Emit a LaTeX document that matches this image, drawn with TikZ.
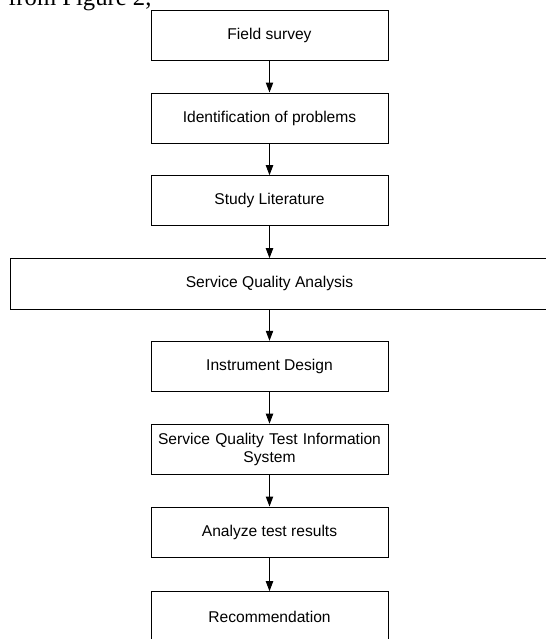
\documentclass[tikz,border=0pt]{standalone}
\usepackage{fontspec}
\setmainfont{Liberation Sans}
\newfontfamily\pagefont{Liberation Serif}
\usetikzlibrary{arrows.meta}

\begin{document}
\begin{tikzpicture}[x=0.75pt, y=-0.75pt,
    stage/.style={draw, line width=0.75pt, minimum width=177.75pt, minimum height=37.5pt,
        font=\fontsize{11.7}{13.3}\selectfont, align=center},
    flow/.style={-{Triangle[length=7.5pt,width=5.5pt]}, line width=0.75pt}]
    \useasboundingbox (0,0) rectangle (546,639);

    % Cut-off line of the page text above the figure
    \node[anchor=base west, inner sep=0pt, font=\pagefont\fontsize{18.5}{22}\selectfont] (pageline) at (8,6) {from Figure 2,};

    % Stages
    \node[stage] (survey) at (269.5,35) {Field survey};
    \node[stage] (problems) at (269.5,118) {Identification of problems};
    \node[stage] (literature) at (269.5,200.7) {Study Literature};

    % Wide box, runs past the right edge
    \draw[line width=0.75pt] (10.7,258.3) rectangle (560,309);
    \node[stage, draw=none] (analysis) at (269.5,283.7) {Service Quality Analysis};

    \node[stage] (design) at (269.5,366.3) {Instrument Design};
    \node[stage, text width=169pt] (testing) at (269.5,449.2) {Service Quality Test Information\\System};
    \node[stage] (results) at (269.5,532) {Analyze test results};
    \node[stage] (advice) at (269.5,616.7) {Recommendation};

    % Flow
    \draw[flow] (survey) -- (problems);
    \draw[flow] (problems) -- (literature);
    \draw[flow] (literature) -- (analysis);
    \draw[flow] (analysis) -- (design);
    \draw[flow] (design) -- (testing);
    \draw[flow] (testing) -- (results);
    \draw[flow] (results) -- (advice);
\end{tikzpicture}
\end{document}
